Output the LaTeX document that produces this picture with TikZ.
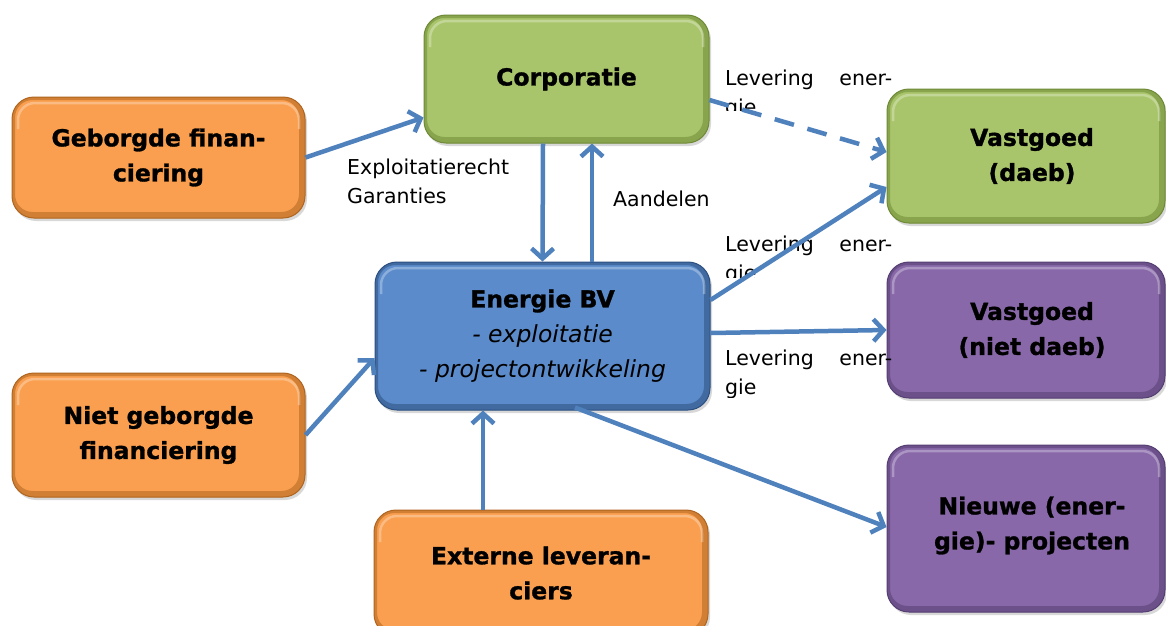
\documentclass[tikz,border=0pt]{standalone}
\usepackage{fontspec}
\setmainfont{DejaVu Sans}[BoldFeatures={FakeBold=1.2}]
\usetikzlibrary{arrows.meta,shadows,calc}
\definecolor{arr}{HTML}{4F81BD}
\definecolor{gfill}{HTML}{A9C56B}
\definecolor{gdark}{HTML}{6E8A36}
\definecolor{ofill}{HTML}{FA9F4F}
\definecolor{odark}{HTML}{B0651F}
\definecolor{bfill}{HTML}{5B8BCA}
\definecolor{bdark}{HTML}{2C4F80}
\definecolor{pfill}{HTML}{8868A8}
\definecolor{pdark}{HTML}{553E72}
\newcommand{\boxfont}{\fontsize{23.5}{35}\selectfont\bfseries}
\newcommand{\lblfont}{\fontsize{20.5}{29}\selectfont}
\tikzset{
  box/.style 2 args={rectangle, rounded corners=22pt, fill=#1, draw=#2, line width=1pt,
    font=\boxfont, align=center, inner sep=0pt,
    drop shadow={opacity=0.3, shadow xshift=2pt, shadow yshift=-3pt},
    path picture={
      \draw[#2, line width=9pt, opacity=.55, rounded corners=22pt]
        ([xshift=-1.5pt,yshift=1.5pt]path picture bounding box.south west) rectangle ([xshift=-1.5pt,yshift=1.5pt]path picture bounding box.north east);
      \draw[white, opacity=.3, line width=2.5pt, rounded corners=17pt]
        ([xshift=6pt,yshift=-32pt]path picture bounding box.north west)
        |- ([xshift=-6pt,yshift=-6pt]path picture bounding box.north east)
        -- ([xshift=-6pt,yshift=-32pt]path picture bounding box.north east);
    }},
  rtext/.style={font=\boxfont, align=center, xshift=6pt},
  lbl/.style={font=\lblfont, inner sep=0pt, anchor=base west},
  conn/.style={draw=arr, line width=4.5pt, -{Straight Barb[length=10pt,width=22pt]}},
}
\begin{document}
\begin{tikzpicture}[x=1pt,y=-1pt]
\useasboundingbox (0,0) rectangle (1166,625);
\fill[white] (0,0) rectangle (1166,625);

% boxes
\node[box={gfill}{gdark}, minimum width=285pt, minimum height=128pt] (corp) at (566.5,79) {Corporatie};
\node[box={ofill}{odark}, minimum width=293pt, minimum height=121pt] (geb) at (158.5,157.5) {Geborgde finan-\\ciering};
\node[box={ofill}{odark}, minimum width=293pt, minimum height=124pt] (ngf) at (158.5,435) {Niet geborgde\\financiering};
\node[box={bfill}{bdark}, minimum width=335pt, minimum height=148pt] (ebv) at (542.5,336) {Energie BV\\{\mdseries\itshape - exploitatie}\\{\mdseries\itshape - projectontwikkeling}};
\node[box={ofill}{odark}, minimum width=334pt, minimum height=126pt] (ext) at (541,573) {Externe leveran-\\ciers};
\node[box={gfill}{gdark}, minimum width=278pt, minimum height=134pt,
      label={[rtext]center:{Vastgoed\\(daeb)}}] (vd) at (1026,156) {};
\node[box={pfill}{pdark}, minimum width=278pt, minimum height=136pt,
      label={[rtext]center:{Vastgoed\\(niet daeb)}}] (vnd) at (1026,330) {};
\node[box={pfill}{pdark}, minimum width=278pt, minimum height=167pt,
      label={[rtext,yshift=3pt]center:{Nieuwe (ener-\\gie)- projecten}}] (nw) at (1026,528.5) {};

% labels
\node[lbl] (expl) at (347,174) {\begin{tabular}[t]{@{}l@{}}Exploitatierecht\\Garanties\end{tabular}};
\node[lbl] (aand) at (613,206) {Aandelen};
\begin{scope}
  \clip (720,55) rectangle (900,110);
  \node[lbl] (lev1) at (725,85) {\begin{tabular}[t]{@{}l@{}}\makebox[167pt]{Levering\hfill ener-}\\gie\end{tabular}};
\end{scope}
\begin{scope}
  \clip (720,225) rectangle (900,277);
  \node[lbl] (lev2) at (725,251) {\begin{tabular}[t]{@{}l@{}}\makebox[167pt]{Levering\hfill ener-}\\gie\end{tabular}};
\end{scope}
\begin{scope}
  \clip (720,340) rectangle (900,397);
  \node[lbl] (lev3) at (725,365) {\begin{tabular}[t]{@{}l@{}}\makebox[167pt]{Levering\hfill ener-}\\gie\end{tabular}};
\end{scope}

% connectors
\draw[conn] (geb.east) -- ([yshift=26pt]corp.south west);
\draw[conn] ([xshift=-23.5pt]corp.south) -- (ebv.north);
\draw[conn] ([xshift=49.5pt]ebv.north) -- ([xshift=25.5pt]corp.south);
\draw[conn, dash pattern=on 20pt off 14pt] ([yshift=-21pt]corp.east) -- ([yshift=4pt]vd.west);
\draw[conn] ([yshift=36pt]ebv.east) -- ([yshift=-31pt]vd.west);
\draw[conn] ([yshift=3pt]ebv.east) -- (vnd.west);
\draw[conn] (ngf.east) -- ([yshift=-22pt]ebv.west);
\draw[conn] ([xshift=-58pt]ext.north) -- ([xshift=-59.5pt]ebv.south);
\draw[conn] ([xshift=32.5pt,yshift=3pt]ebv.south) -- ([yshift=1.5pt]nw.west);
\end{tikzpicture}
\end{document}
